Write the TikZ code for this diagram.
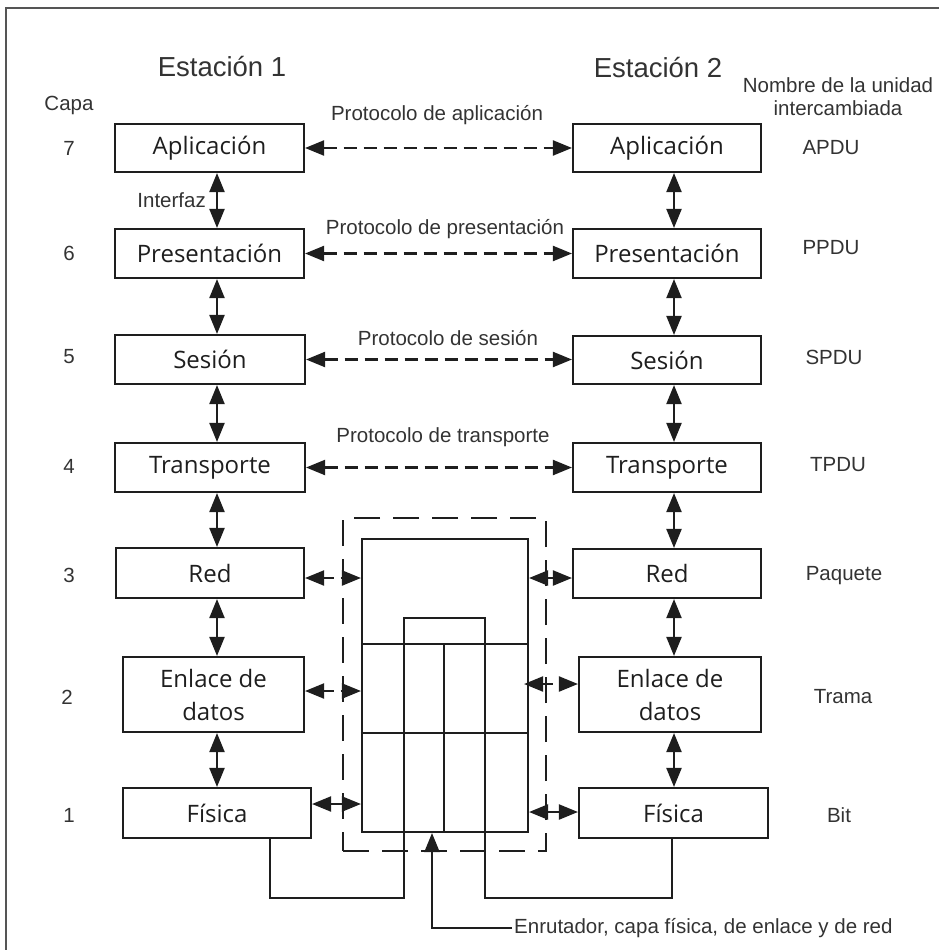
\documentclass[tikz,border=0pt]{standalone}
\usepackage{fontspec}
\setmainfont{Liberation Sans}
\newfontfamily\boxfont{Open Sans}
\usetikzlibrary{arrows.meta}
\definecolor{ink}{HTML}{1E1E1E}
\definecolor{txt}{HTML}{333333}
\definecolor{framec}{HTML}{555555}
\begin{document}
\begin{tikzpicture}[x=1pt,y=-1pt,
  box/.style={draw=ink, line width=2.1pt, inner sep=0pt, text=ink, align=center,
    font=\boxfont\fontsize{24}{33}\selectfont},
  lbl/.style={font=\fontsize{20.5}{23}\selectfont, text=txt, inner sep=2pt, align=center},
  head/.style={font=\fontsize{27.5}{30}\selectfont, text=txt, inner sep=0pt},
  wire/.style={draw=ink, line width=2.1pt},
  arr/.style={wire, {Triangle[length=19pt,width=15pt]}-{Triangle[length=19pt,width=15pt]}},
  proto/.style={arr, dash pattern=on 13pt off 7pt},
  sdash/.style={arr, dash pattern=on 10pt off 7pt},
  onearr/.style={wire, -{Triangle[length=19pt,width=15pt]}}
]
\useasboundingbox (0,0) rectangle (939,950);
% frame
\draw[framec, line width=1.5pt] (6,950) -- (6,8) -- (939,8);

% headers
\node[head] (st1) at (222,67) {Estación 1};
\node[head] (st2) at (658,68) {Estación 2};
\node[lbl] (nom) at (838,96.5) {Nombre de la unidad\\intercambiada};
\node[lbl] (capa) at (69,105) {Capa};

% left column
\node[box, minimum width=189pt, minimum height=48pt] (l7) at (209.5,148) {Aplicación};
\node[box, minimum width=189pt, minimum height=49pt] (l6) at (209.5,253.5) {Presentación};
\node[box, minimum width=190pt, minimum height=49pt] (l5) at (210,359.5) {Sesión};
\node[box, minimum width=190pt, minimum height=49pt] (l4) at (210,467.5) {Transporte};
\node[box, minimum width=188pt, minimum height=50pt] (l3) at (210,573) {Red};
\node[box, minimum width=181pt, minimum height=75pt] (l2) at (213.5,694.5) {Enlace de\\datos};
\node[box, minimum width=188pt, minimum height=50pt] (l1) at (217,813) {Física};

% right column
\node[box, minimum width=188pt, minimum height=48pt] (r7) at (667,148) {Aplicación};
\node[box, minimum width=188pt, minimum height=49pt] (r6) at (667,253.5) {Presentación};
\node[box, minimum width=188pt, minimum height=48pt] (r5) at (667,360) {Sesión};
\node[box, minimum width=188pt, minimum height=49pt] (r4) at (667,467.5) {Transporte};
\node[box, minimum width=188pt, minimum height=49pt] (r3) at (667,573.5) {Red};
\node[box, minimum width=182pt, minimum height=75pt] (r2) at (670,694.5) {Enlace de\\datos};
\node[box, minimum width=189pt, minimum height=50pt] (r1) at (673.5,813) {Física};

% layer numbers
\node[lbl] (n7) at (69,148) {7};
\node[lbl] (n6) at (69,253) {6};
\node[lbl] (n5) at (69,357) {5};
\node[lbl] (n4) at (69,466) {4};
\node[lbl] (n3) at (69,575) {3};
\node[lbl] (n2) at (67,697) {2};
\node[lbl] (n1) at (69,815) {1};

% unit names
\node[lbl] (u7) at (831,148) {APDU};
\node[lbl] (u6) at (831,248) {PPDU};
\node[lbl] (u5) at (834,357) {SPDU};
\node[lbl] (u4) at (838,465) {TPDU};
\node[lbl] (u3) at (844,576) {Paquete};
\node[lbl] (u2) at (843,697) {Trama};
\node[lbl] (u1) at (839,815) {Bit};

% protocol labels
\node[lbl] (p7) at (437,115) {Protocolo de aplicación};
\node[lbl] (p6) at (445,229) {Protocolo de presentación};
\node[lbl] (p5) at (448,338) {Protocolo de sesión};
\node[lbl] (p4) at (443,437) {Protocolo de transporte};
\node[lbl, anchor=east] (itf) at (208,200) {Interfaz};

% protocol arrows
\foreach \n in {7,6,5,4}{
  \draw[proto] (l\n.east) -- (l\n.east -| r\n.west);
}

% vertical interface arrows
\coordinate (xl) at (217,0);
\coordinate (xr) at (674,0);
\foreach \a/\b in {7/6,6/5,5/4,4/3,3/2,2/1}{
  \draw[arr] (l\a.south -| xl) -- (l\b.north -| xl);
  \draw[arr] (r\a.south -| xr) -- (r\b.north -| xr);
}

% router
\node[draw=ink, line width=2.1pt, dash pattern=on 26pt off 13pt, inner sep=0pt,
      minimum width=203pt, minimum height=333pt] (rt) at (444.5,684.5) {};
\node[draw=ink, line width=2.1pt, inner sep=0pt,
      minimum width=166pt, minimum height=293pt] (inner) at (445,685.5) {};
\coordinate (h1) at (0,644);
\coordinate (h2) at (0,733);
\coordinate (mx) at (444,0);
\draw[wire] (inner.west |- h1) -- (inner.east |- h1);
\draw[wire] (inner.west |- h2) -- (inner.east |- h2);
\draw[wire] (mx |- h1) -- (mx |- inner.south);

% physical link path
\coordinate (ua) at (270,0);
\coordinate (ub) at (672,0);
\draw[wire] (l1.south -| ua) -- (270,898) -- (404,898) -- (404,618)
  -- (485,618) -- (485,898) -- (672,898) -- (r1.south -| ub);

% router side arrows
\draw[sdash] ([yshift=-5pt]l3.east) -- ([yshift=-5pt]l3.east -| inner.west);
\draw[sdash] ([yshift=3.5pt]l2.east) -- ([yshift=3.5pt]l2.east -| inner.west);
\draw[arr] ([yshift=9pt]l1.east) -- ([yshift=9pt]l1.east -| inner.west);
\draw[arr] ([yshift=-4.5pt]r3.west -| inner.east) -- ([yshift=-4.5pt]r3.west);
\draw[sdash] ([yshift=10.5pt,xshift=-5pt]r2.west -| inner.east) -- ([yshift=10.5pt]r2.west);
\draw[arr] ([yshift=1pt]r1.west -| inner.east) -- ([yshift=1pt]r1.west);

% router caption
\node[lbl, anchor=west] (enr) at (512,928) {Enrutador, capa física, de enlace y de red};
\coordinate (ex) at (432,0);
\draw[onearr] (enr.west) -| (inner.south -| ex);
\end{tikzpicture}
\end{document}
